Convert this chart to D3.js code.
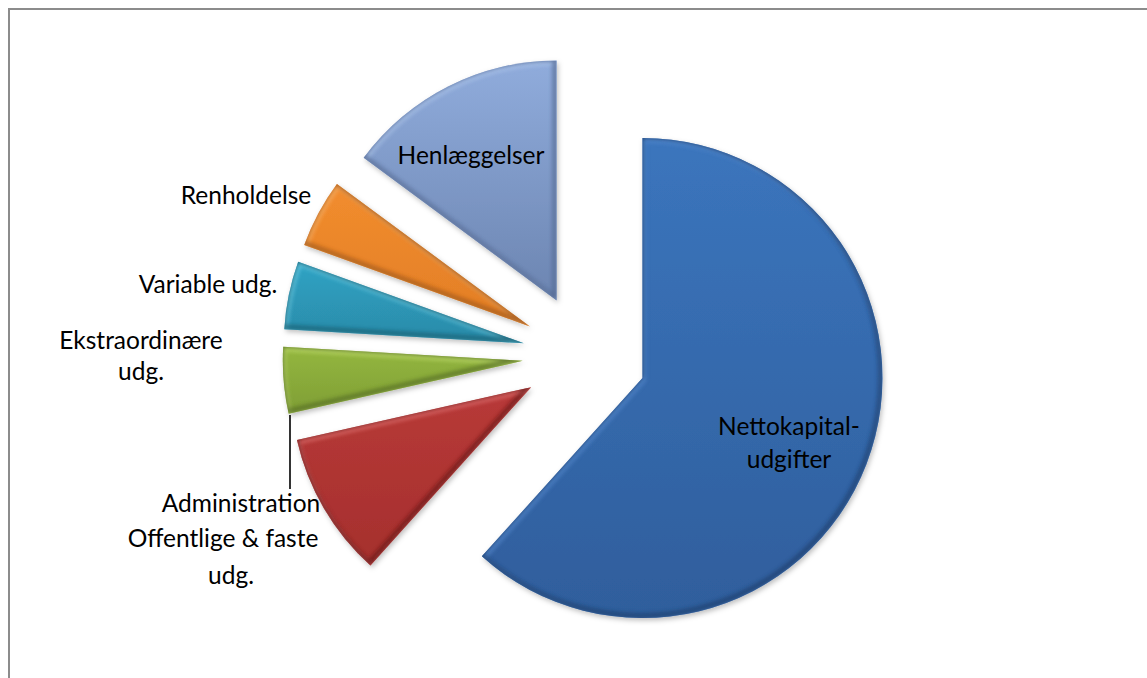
<!DOCTYPE html>
<html><head><meta charset="utf-8">
<script src="https://cdnjs.cloudflare.com/ajax/libs/d3/7.8.5/d3.min.js"></script>
<style>html,body{margin:0;padding:0;background:#fff;overflow:hidden}svg{display:block}</style>
</head><body>
<svg id="c" width="1147" height="678"></svg>
<script>
const categories=["Nettokapital-udgifter","Administration Offentlige & faste udg.","Ekstraordinære udg.","Variable udg.","Renholdelse","Henlæggelser"];
const values=[61.67,9.8,4.47,4.58,4.61,14.87];
const topColors=["#3b75bd","#b83a38","#94b73f","#2fa3c4","#f28d2e","#90acdc"];
const bottomColors=["#2f5e9c","#a52f2d","#7f9e35","#2b8aa8","#e27e26","#6c85b1"];
const darkEdge=["#1c3b66","#5f1716","#4d6420","#165466","#964f12","#465c85"];
const lightEdge=["#5f92d6","#ea7f7f","#cbe67a","#7fdcf2","#fbbb78","#b4cbee"];
const labelLines=[["Nettokapital-","udgifter"],["Administration","Offentlige & faste","udg."],["Ekstraordinære","udg."],["Variable udg."],["Renholdelse"],["Henlæggelser"]];

const cx=584.6,cy=355.8,R=240,explode=62,fontSize=24.5;
const labelPos=[
 [[789,435],[789,468]],
 [[241,512],[223,547],[231,584]],
 [[141,349],[141,380]],
 [[208,293]],
 [[246,204]],
 [[471,164]]
];

const svg=d3.select("#c");
const defs=svg.append("defs");
const f=defs.append("filter").attr("id","sh").attr("x","-20%").attr("y","-20%").attr("width","140%").attr("height","140%");
f.append("feDropShadow").attr("dx",1.5).attr("dy",2.5).attr("stdDeviation",2.5).attr("flood-color","#000").attr("flood-opacity",0.25);
const blur=defs.append("filter").attr("id","bl").attr("x","-10%").attr("y","-10%").attr("width","120%").attr("height","120%");
blur.append("feGaussianBlur").attr("stdDeviation",2);

svg.append("path").attr("d","M9,678V9H1147").attr("fill","none").attr("stroke","#8c8c8c").attr("stroke-width",2);

const pie=d3.pie().sort(null).value(d=>d);
const arc=d3.arc().innerRadius(0).outerRadius(R);
const arcs=pie(values);

arcs.forEach((a,i)=>{
  const g=defs.append("linearGradient").attr("id","g"+i).attr("x1",0).attr("y1",0).attr("x2",0).attr("y2",1);
  g.append("stop").attr("offset",0).attr("stop-color",topColors[i]);
  g.append("stop").attr("offset",1).attr("stop-color",bottomColors[i]);
  defs.append("clipPath").attr("id","cp"+i).append("path").attr("d",arc(a));
});

const slices=svg.selectAll("g.s").data(arcs).join("g").attr("class","s")
 .attr("transform",d=>{const m=(d.startAngle+d.endAngle)/2;return `translate(${cx+explode*Math.sin(m)},${cy-explode*Math.cos(m)})`});
slices.each(function(d,i){
  const g=d3.select(this);
  g.append("path").attr("d",arc(d)).attr("fill",`url(#g${i})`).attr("filter","url(#sh)");
  const c=g.append("g").attr("clip-path",`url(#cp${i})`);
  c.append("path").attr("d",arc(d)).attr("fill","none").attr("stroke",lightEdge[i]).attr("stroke-width",4).attr("opacity",0.75).attr("filter","url(#bl)").attr("transform","translate(1,2)");
  c.append("path").attr("d",arc(d)).attr("fill","none").attr("stroke",darkEdge[i]).attr("stroke-width",5).attr("opacity",0.7).attr("filter","url(#bl)").attr("transform","translate(-1.5,-2)");
});

svg.append("line").attr("x1",290).attr("y1",415).attr("x2",290).attr("y2",489).attr("stroke","#000").attr("stroke-width",1.6);

const t=svg.selectAll("text.l").data(labelLines).join("text").attr("class","l")
 .attr("text-anchor","middle").attr("font-family","Lato, 'Open Sans', sans-serif").attr("font-size",fontSize).attr("fill","#000");
t.each(function(d,i){
  d3.select(this).selectAll("tspan").data(d).join("tspan")
   .attr("x",(s,j)=>labelPos[i][j][0]).attr("y",(s,j)=>labelPos[i][j][1]).text(s=>s);
});
</script>
</body></html>
